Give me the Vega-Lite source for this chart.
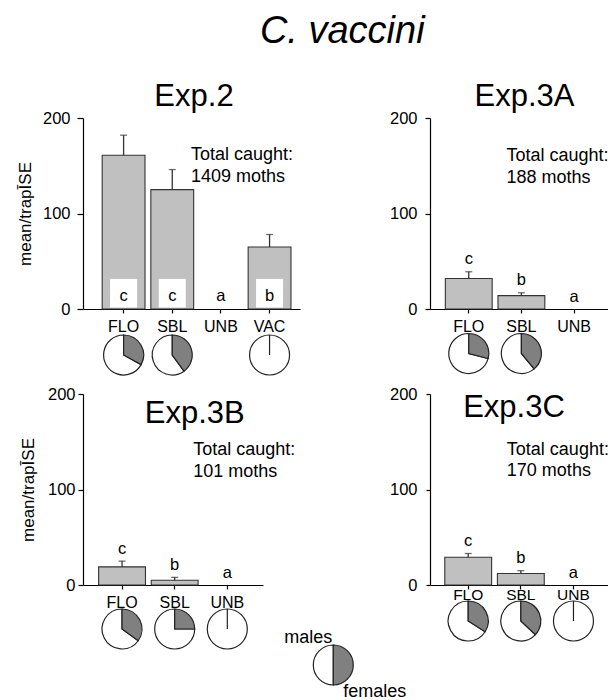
{
  "$schema": "https://vega.github.io/schema/vega-lite/v6.json",
  "background": "white",
  "padding": {"left": 16, "top": 13, "right": 5, "bottom": 5},
  "title": {"text": "C. vaccini", "fontStyle": "italic", "fontSize": 38, "font": "Liberation Sans", "fontWeight": "normal", "anchor": "middle", "frame": "bounds", "dx": 29, "offset": 0, "baseline": "alphabetic", "color": "black"},
  "columns": 2,
  "bounds": "flush",
  "spacing": {"row": 85, "column": 130},
  "config": {
    "font": "Liberation Sans",
    "view": {"stroke": null},
    "axis": {"grid": false, "domainColor": "black", "domainWidth": 1.2, "tickColor": "black", "tickWidth": 1.2, "labelColor": "black", "labelFontSize": 16.5, "titleFontSize": 17, "titleFontWeight": "normal", "titleColor": "black", "labelFont": "Liberation Sans", "titleFont": "Liberation Sans"},
    "title": {"fontWeight": "normal", "fontSize": 31, "font": "Liberation Sans", "baseline": "alphabetic", "color": "black", "frame": "group", "anchor": "middle"}
  },
  "datasets": {
    "bars": [
      {"exp": "Exp.2", "trap": "FLO", "mean": 161, "upper": 182, "letter": "c"},
      {"exp": "Exp.2", "trap": "SBL", "mean": 125, "upper": 146, "letter": "c"},
      {"exp": "Exp.2", "trap": "UNB", "mean": 0, "upper": 0, "letter": "a"},
      {"exp": "Exp.2", "trap": "VAC", "mean": 65, "upper": 78, "letter": "b"},
      {"exp": "Exp.3A", "trap": "FLO", "mean": 32, "upper": 39, "letter": "c"},
      {"exp": "Exp.3A", "trap": "SBL", "mean": 14, "upper": 17, "letter": "b"},
      {"exp": "Exp.3A", "trap": "UNB", "mean": 0, "upper": 0, "letter": "a"},
      {"exp": "Exp.3B", "trap": "FLO", "mean": 19, "upper": 25, "letter": "c"},
      {"exp": "Exp.3B", "trap": "SBL", "mean": 5, "upper": 8, "letter": "b"},
      {"exp": "Exp.3B", "trap": "UNB", "mean": 0, "upper": 0, "letter": "a"},
      {"exp": "Exp.3C", "trap": "FLO", "mean": 29, "upper": 33, "letter": "c"},
      {"exp": "Exp.3C", "trap": "SBL", "mean": 12, "upper": 15, "letter": "b"},
      {"exp": "Exp.3C", "trap": "UNB", "mean": 0, "upper": 0, "letter": "a"}
    ],
    "pies": [
      {"exp": "Exp.2", "trap": "FLO", "females": 0.33},
      {"exp": "Exp.2", "trap": "SBL", "females": 0.40},
      {"exp": "Exp.2", "trap": "VAC", "females": 0.0},
      {"exp": "Exp.3A", "trap": "FLO", "females": 0.29},
      {"exp": "Exp.3A", "trap": "SBL", "females": 0.39},
      {"exp": "Exp.3B", "trap": "FLO", "females": 0.35},
      {"exp": "Exp.3B", "trap": "SBL", "females": 0.25},
      {"exp": "Exp.3B", "trap": "UNB", "females": 0.0},
      {"exp": "Exp.3C", "trap": "FLO", "females": 0.34},
      {"exp": "Exp.3C", "trap": "SBL", "females": 0.37},
      {"exp": "Exp.3C", "trap": "UNB", "females": 0.0}
    ],
    "notes": [
      {"exp": "Exp.2", "note": "Total caught:\n1409 moths"},
      {"exp": "Exp.3A", "note": "Total caught:\n188 moths"},
      {"exp": "Exp.3B", "note": "Total caught:\n101 moths"},
      {"exp": "Exp.3C", "note": "Total caught:\n170 moths"}
    ],
    "legend": [
      {"females": 0.5}
    ]
  },
  "concat": [
    {
      "width": 217, "height": 191,
      "title": {"text": "Exp.2", "dx": 2.5, "offset": -3},
      "layer": [
        {"data": {"name": "bars"}, "transform": [{"filter": "datum.exp === 'Exp.2' && datum.mean > 0"}],
         "mark": {"type": "bar", "fill": "#c0c0c0", "stroke": "#333333", "strokeWidth": 1.1},
         "encoding": {
           "x": {"field": "trap", "type": "nominal", "sort": null, "scale": {"domain": ["FLO", "SBL", "UNB", "VAC"], "paddingInner": 0.12, "paddingOuter": 0.29, "align": 0.68}, "axis": {"title": null, "labelAngle": 0, "tickSize": 4, "labelPadding": 5, "labelFontSize": 16}},
           "y": {"field": "mean", "type": "quantitative", "scale": {"domain": [0, 200], "nice": false}, "axis": {"values": [0, 100, 200], "title": "mean/trapĪSE", "tickSize": 6, "labelPadding": 7, "titlePadding": 8}}
         }},
        {"data": {"name": "bars"}, "transform": [{"filter": "datum.exp === 'Exp.2' && datum.mean > 0"}],
         "mark": {"type": "bar", "fill": "white", "size": 27},
         "encoding": {"x": {"field": "trap", "type": "nominal"}, "y": {"datum": 31.5}, "y2": {"datum": 1.5}}},
        {"data": {"name": "bars"}, "transform": [{"filter": "datum.exp === 'Exp.2' && datum.mean > 0"}],
         "mark": {"type": "rule", "color": "#333333", "strokeWidth": 1.3},
         "encoding": {"x": {"field": "trap", "type": "nominal"}, "y": {"field": "mean", "type": "quantitative"}, "y2": {"field": "upper"}}},
        {"data": {"name": "bars"}, "transform": [{"filter": "datum.exp === 'Exp.2' && datum.mean > 0"}],
         "mark": {"type": "tick", "orient": "horizontal", "size": 7, "thickness": 1.3, "color": "#333333"},
         "encoding": {"x": {"field": "trap", "type": "nominal"}, "y": {"field": "upper", "type": "quantitative"}}},
        {"data": {"name": "bars"}, "transform": [{"filter": "datum.exp === 'Exp.2'"}],
         "mark": {"type": "text", "fontSize": 16.5, "baseline": "alphabetic", "dy": -8.3, "color": "black"},
         "encoding": {"x": {"field": "trap", "type": "nominal"}, "y": {"datum": 0}, "text": {"field": "letter"}}},
        {"data": {"name": "notes"}, "transform": [{"filter": "datum.exp === 'Exp.2'"}],
         "mark": {"type": "text", "fontSize": 18, "align": "left", "baseline": "top", "lineBreak": "\n", "lineHeight": 21.5, "dx": -30, "dy": 28, "color": "black"},
         "encoding": {"x": {"datum": "UNB"}, "y": {"datum": 200}, "text": {"field": "note"}}},
        {"data": {"name": "pies"}, "transform": [{"filter": "datum.exp === 'Exp.2'"}],
         "mark": {"type": "arc", "radius": 20, "fill": "white", "stroke": "#222222", "strokeWidth": 1.2, "yOffset": 46},
         "encoding": {"x": {"field": "trap", "type": "nominal"}, "y": {"datum": 0}, "theta": {"field": "females", "type": "quantitative", "scale": {"domain": [0, 1]}, "stack": null}, "theta2": {"datum": 1}}},
        {"data": {"name": "pies"}, "transform": [{"filter": "datum.exp === 'Exp.2'"}],
         "mark": {"type": "arc", "radius": 20, "fill": "#808080", "stroke": "#222222", "strokeWidth": 1.2, "yOffset": 46},
         "encoding": {"x": {"field": "trap", "type": "nominal"}, "y": {"datum": 0}, "theta": {"field": "females", "type": "quantitative", "stack": null}, "theta2": {"datum": 0}}}
      ]
    },
    {
      "width": 180, "height": 191,
      "title": {"text": "Exp.3A", "dx": 4.5, "offset": -3},
      "layer": [
        {"data": {"name": "bars"}, "transform": [{"filter": "datum.exp === 'Exp.3A' && datum.mean > 0"}],
         "mark": {"type": "bar", "fill": "#c0c0c0", "stroke": "#333333", "strokeWidth": 1.1},
         "encoding": {
           "x": {"field": "trap", "type": "nominal", "sort": null, "scale": {"domain": ["FLO", "SBL", "UNB"], "paddingInner": 0.11, "paddingOuter": 0.265, "align": 0.55}, "axis": {"title": null, "labelAngle": 0, "tickSize": 4, "labelPadding": 5, "labelFontSize": 16}},
           "y": {"field": "mean", "type": "quantitative", "scale": {"domain": [0, 200], "nice": false}, "axis": {"values": [0, 100, 200], "title": null, "tickSize": 5, "labelPadding": 8}}
         }},
        {"data": {"name": "bars"}, "transform": [{"filter": "datum.exp === 'Exp.3A' && datum.mean > 0"}],
         "mark": {"type": "rule", "color": "#333333", "strokeWidth": 1.3},
         "encoding": {"x": {"field": "trap", "type": "nominal"}, "y": {"field": "mean", "type": "quantitative"}, "y2": {"field": "upper"}}},
        {"data": {"name": "bars"}, "transform": [{"filter": "datum.exp === 'Exp.3A' && datum.mean > 0"}],
         "mark": {"type": "tick", "orient": "horizontal", "size": 7, "thickness": 1.3, "color": "#333333"},
         "encoding": {"x": {"field": "trap", "type": "nominal"}, "y": {"field": "upper", "type": "quantitative"}}},
        {"data": {"name": "bars"}, "transform": [{"filter": "datum.exp === 'Exp.3A'"}],
         "mark": {"type": "text", "fontSize": 16.5, "baseline": "alphabetic", "dy": -7.5, "color": "black"},
         "encoding": {"x": {"field": "trap", "type": "nominal"}, "y": {"field": "upper", "type": "quantitative"}, "text": {"field": "letter"}}},
        {"data": {"name": "notes"}, "transform": [{"filter": "datum.exp === 'Exp.3A'"}],
         "mark": {"type": "text", "fontSize": 18, "align": "left", "baseline": "top", "lineBreak": "\n", "lineHeight": 21.5, "dx": -15, "dy": 29, "color": "black"},
         "encoding": {"x": {"datum": "SBL"}, "y": {"datum": 200}, "text": {"field": "note"}}},
        {"data": {"name": "pies"}, "transform": [{"filter": "datum.exp === 'Exp.3A'"}],
         "mark": {"type": "arc", "radius": 20, "fill": "white", "stroke": "#222222", "strokeWidth": 1.2, "yOffset": 44.5},
         "encoding": {"x": {"field": "trap", "type": "nominal"}, "y": {"datum": 0}, "theta": {"field": "females", "type": "quantitative", "scale": {"domain": [0, 1]}, "stack": null}, "theta2": {"datum": 1}}},
        {"data": {"name": "pies"}, "transform": [{"filter": "datum.exp === 'Exp.3A'"}],
         "mark": {"type": "arc", "radius": 20, "fill": "#808080", "stroke": "#222222", "strokeWidth": 1.2, "yOffset": 44.5},
         "encoding": {"x": {"field": "trap", "type": "nominal"}, "y": {"datum": 0}, "theta": {"field": "females", "type": "quantitative", "stack": null}, "theta2": {"datum": 0}}}
      ]
    },
    {
      "width": 180, "height": 191,
      "title": {"text": "Exp.3B", "dx": 21.7, "offset": -44},
      "layer": [
        {"data": {"name": "bars"}, "transform": [{"filter": "datum.exp === 'Exp.3B' && datum.mean > 0"}],
         "mark": {"type": "bar", "fill": "#c0c0c0", "stroke": "#333333", "strokeWidth": 1.1},
         "encoding": {
           "x": {"field": "trap", "type": "nominal", "sort": null, "scale": {"domain": ["FLO", "SBL", "UNB"], "paddingInner": 0.11, "paddingOuter": 0.265, "align": 0.56}, "axis": {"title": null, "labelAngle": 0, "tickSize": 4, "labelPadding": 5, "labelFontSize": 16}},
           "y": {"field": "mean", "type": "quantitative", "scale": {"domain": [0, 200], "nice": false}, "axis": {"values": [0, 100, 200], "title": "mean/trapĪSE", "tickSize": 5, "labelPadding": 3, "titlePadding": 10}}
         }},
        {"data": {"name": "bars"}, "transform": [{"filter": "datum.exp === 'Exp.3B' && datum.mean > 0"}],
         "mark": {"type": "rule", "color": "#333333", "strokeWidth": 1.3},
         "encoding": {"x": {"field": "trap", "type": "nominal"}, "y": {"field": "mean", "type": "quantitative"}, "y2": {"field": "upper"}}},
        {"data": {"name": "bars"}, "transform": [{"filter": "datum.exp === 'Exp.3B' && datum.mean > 0"}],
         "mark": {"type": "tick", "orient": "horizontal", "size": 7, "thickness": 1.3, "color": "#333333"},
         "encoding": {"x": {"field": "trap", "type": "nominal"}, "y": {"field": "upper", "type": "quantitative"}}},
        {"data": {"name": "bars"}, "transform": [{"filter": "datum.exp === 'Exp.3B'"}],
         "mark": {"type": "text", "fontSize": 16.5, "baseline": "alphabetic", "dy": -7.5, "color": "black"},
         "encoding": {"x": {"field": "trap", "type": "nominal"}, "y": {"field": "upper", "type": "quantitative"}, "text": {"field": "letter"}}},
        {"data": {"name": "notes"}, "transform": [{"filter": "datum.exp === 'Exp.3B'"}],
         "mark": {"type": "text", "fontSize": 18, "align": "left", "baseline": "top", "lineBreak": "\n", "lineHeight": 21.5, "dx": -34, "dy": 47, "color": "black"},
         "encoding": {"x": {"datum": "UNB"}, "y": {"datum": 200}, "text": {"field": "note"}}},
        {"data": {"name": "pies"}, "transform": [{"filter": "datum.exp === 'Exp.3B'"}],
         "mark": {"type": "arc", "radius": 20, "fill": "white", "stroke": "#222222", "strokeWidth": 1.2, "yOffset": 44},
         "encoding": {"x": {"field": "trap", "type": "nominal"}, "y": {"datum": 0}, "theta": {"field": "females", "type": "quantitative", "scale": {"domain": [0, 1]}, "stack": null}, "theta2": {"datum": 1}}},
        {"data": {"name": "pies"}, "transform": [{"filter": "datum.exp === 'Exp.3B'"}],
         "mark": {"type": "arc", "radius": 20, "fill": "#808080", "stroke": "#222222", "strokeWidth": 1.2, "yOffset": 44},
         "encoding": {"x": {"field": "trap", "type": "nominal"}, "y": {"datum": 0}, "theta": {"field": "females", "type": "quantitative", "stack": null}, "theta2": {"datum": 0}}},
        {"data": {"name": "legend"},
         "mark": {"type": "arc", "radius": 20, "fill": "white", "stroke": "#222222", "strokeWidth": 1.2, "xOffset": 106, "yOffset": 80},
         "encoding": {"x": {"datum": "UNB"}, "y": {"datum": 0}, "theta": {"field": "females", "type": "quantitative", "stack": null}, "theta2": {"datum": 1}}},
        {"data": {"name": "legend"},
         "mark": {"type": "arc", "radius": 20, "fill": "#808080", "stroke": "#222222", "strokeWidth": 1.2, "xOffset": 106, "yOffset": 80},
         "encoding": {"x": {"datum": "UNB"}, "y": {"datum": 0}, "theta": {"field": "females", "type": "quantitative", "stack": null}, "theta2": {"datum": 0}}},
        {"data": {"name": "legend"},
         "mark": {"type": "text", "fontSize": 18, "align": "right", "baseline": "alphabetic", "dx": 105, "dy": 58, "color": "black"},
         "encoding": {"x": {"datum": "UNB"}, "y": {"datum": 0}, "text": {"value": "males"}}},
        {"data": {"name": "legend"},
         "mark": {"type": "text", "fontSize": 18, "align": "left", "baseline": "alphabetic", "dx": 116, "dy": 112, "color": "black"},
         "encoding": {"x": {"datum": "UNB"}, "y": {"datum": 0}, "text": {"value": "females"}}}
      ]
    },
    {
      "width": 180, "height": 191,
      "title": {"text": "Exp.3C", "dx": -6, "offset": -37.5},
      "layer": [
        {"data": {"name": "bars"}, "transform": [{"filter": "datum.exp === 'Exp.3C' && datum.mean > 0"}],
         "mark": {"type": "bar", "fill": "#c0c0c0", "stroke": "#333333", "strokeWidth": 1.1},
         "encoding": {
           "x": {"field": "trap", "type": "nominal", "sort": null, "scale": {"domain": ["FLO", "SBL", "UNB"], "paddingInner": 0.11, "paddingOuter": 0.265, "align": 0.53}, "axis": {"title": null, "labelAngle": 0, "tickSize": 4, "labelPadding": -2, "labelFontSize": 15.5}},
           "y": {"field": "mean", "type": "quantitative", "scale": {"domain": [0, 200], "nice": false}, "axis": {"values": [0, 100, 200], "title": null, "tickSize": 4, "labelPadding": 9}}
         }},
        {"data": {"name": "bars"}, "transform": [{"filter": "datum.exp === 'Exp.3C' && datum.mean > 0"}],
         "mark": {"type": "rule", "color": "#333333", "strokeWidth": 1.3},
         "encoding": {"x": {"field": "trap", "type": "nominal"}, "y": {"field": "mean", "type": "quantitative"}, "y2": {"field": "upper"}}},
        {"data": {"name": "bars"}, "transform": [{"filter": "datum.exp === 'Exp.3C' && datum.mean > 0"}],
         "mark": {"type": "tick", "orient": "horizontal", "size": 7, "thickness": 1.3, "color": "#333333"},
         "encoding": {"x": {"field": "trap", "type": "nominal"}, "y": {"field": "upper", "type": "quantitative"}}},
        {"data": {"name": "bars"}, "transform": [{"filter": "datum.exp === 'Exp.3C'"}],
         "mark": {"type": "text", "fontSize": 16.5, "baseline": "alphabetic", "dy": -7.5, "color": "black"},
         "encoding": {"x": {"field": "trap", "type": "nominal"}, "y": {"field": "upper", "type": "quantitative"}, "text": {"field": "letter"}}},
        {"data": {"name": "notes"}, "transform": [{"filter": "datum.exp === 'Exp.3C'"}],
         "mark": {"type": "text", "fontSize": 18, "align": "left", "baseline": "top", "lineBreak": "\n", "lineHeight": 21.5, "dx": -14, "dy": 46.5, "color": "black"},
         "encoding": {"x": {"datum": "SBL"}, "y": {"datum": 200}, "text": {"field": "note"}}},
        {"data": {"name": "pies"}, "transform": [{"filter": "datum.exp === 'Exp.3C'"}],
         "mark": {"type": "arc", "radius": 20, "fill": "white", "stroke": "#222222", "strokeWidth": 1.2, "yOffset": 36},
         "encoding": {"x": {"field": "trap", "type": "nominal"}, "y": {"datum": 0}, "theta": {"field": "females", "type": "quantitative", "scale": {"domain": [0, 1]}, "stack": null}, "theta2": {"datum": 1}}},
        {"data": {"name": "pies"}, "transform": [{"filter": "datum.exp === 'Exp.3C'"}],
         "mark": {"type": "arc", "radius": 20, "fill": "#808080", "stroke": "#222222", "strokeWidth": 1.2, "yOffset": 36},
         "encoding": {"x": {"field": "trap", "type": "nominal"}, "y": {"datum": 0}, "theta": {"field": "females", "type": "quantitative", "stack": null}, "theta2": {"datum": 0}}}
      ]
    }
  ]
}
